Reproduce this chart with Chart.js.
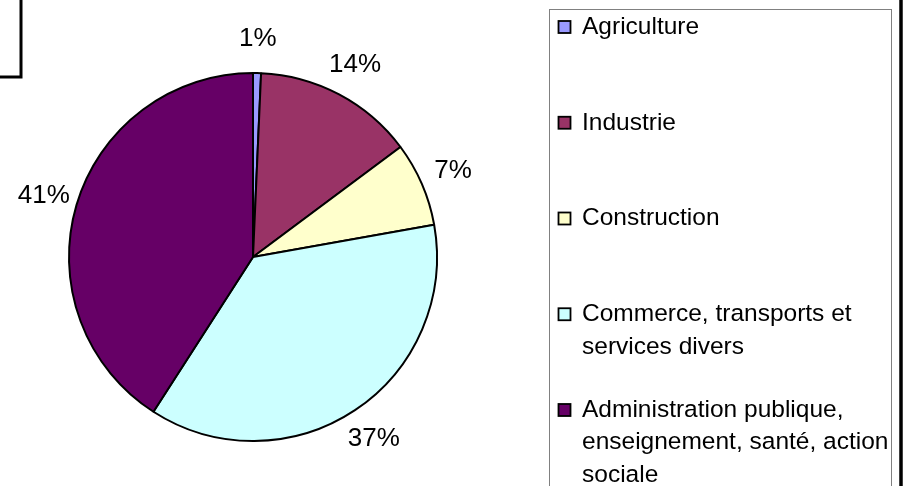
<!DOCTYPE html>
<html>
<head>
<meta charset="utf-8">
<script src="https://cdn.jsdelivr.net/npm/chart.js@4"></script>
<style>
  html, body { margin: 0; padding: 0; background: #fff; }
  #wrap { width: 904px; height: 486px; position: relative; }
</style>
</head>
<body>
<div id="wrap"><canvas id="pie" width="904" height="486"></canvas></div>
<script>
// secteurs d'activité (part en %)
const sectors = ['Agriculture', 'Industrie', 'Construction', 'Commerce, transports et services divers', 'Administration publique, enseignement, santé, action sociale'];
const shares = [0.7, 14.1, 7.4, 36.9, 40.9];
const sliceColors = ['#9999FF', '#993366', '#FFFFCC', '#CCFFFF', '#660066'];

const FONT = '"Liberation Sans", Arial, sans-serif';

// pourcentages autour du camembert
const pctLabels = {
  id: 'pctLabels',
  afterDatasetsDraw(chart) {
    const ctx = chart.ctx;
    const meta = chart.getDatasetMeta(0);
    const total = shares.reduce((a, b) => a + b, 0);
    ctx.save();
    ctx.font = '26px ' + FONT;
    ctx.fillStyle = '#000';
    ctx.textAlign = 'center';
    ctx.textBaseline = 'middle';
    meta.data.forEach((arc, i) => {
      const p = arc.getProps(['x', 'y', 'startAngle', 'endAngle', 'outerRadius'], true);
      const mid = (p.startAngle + p.endAngle) / 2;
      const r = p.outerRadius + 34;
      const x = p.x + Math.cos(mid) * r;
      const y = p.y + Math.sin(mid) * r;
      ctx.fillText(Math.round(shares[i] / total * 100) + '%', x, y);
    });
    ctx.restore();
  }
};

// légende façon Excel + cadres
const sideLegend = {
  id: 'sideLegend',
  afterDraw(chart) {
    const ctx = chart.ctx;
    ctx.save();
    // bout du cadre du titre en haut à gauche
    ctx.strokeStyle = '#000';
    ctx.lineWidth = 3;
    ctx.strokeRect(-10, -10, 31, 87);
    // bord droit du graphique
    ctx.lineWidth = 3.5;
    ctx.beginPath();
    ctx.moveTo(901, 0);
    ctx.lineTo(901, 486);
    ctx.stroke();
    // cadre de la légende
    ctx.strokeStyle = '#808080';
    ctx.lineWidth = 1;
    ctx.strokeRect(549.5, 9.5, 342, 500);

    ctx.font = '24.5px ' + FONT;
    ctx.textBaseline = 'middle';
    ctx.textAlign = 'left';
    const textX = 582, maxW = 310, lineH = 32.5;
    sectors.forEach((name, i) => {
      const y0 = 27 + i * 95.75;
      // retour à la ligne
      const words = name.split(' ');
      const lines = [];
      let cur = '';
      words.forEach(w => {
        const t = cur ? cur + ' ' + w : w;
        if (ctx.measureText(t).width > maxW && cur) { lines.push(cur); cur = w; }
        else cur = t;
      });
      lines.push(cur);
      ctx.fillStyle = sliceColors[i];
      ctx.fillRect(558.5, y0 - 6, 12, 12);
      ctx.strokeStyle = '#000';
      ctx.lineWidth = 1.8;
      ctx.strokeRect(558.5, y0 - 6, 12, 12);
      ctx.fillStyle = '#000';
      lines.forEach((ln, k) => ctx.fillText(ln, textX, y0 + k * lineH));
    });
    ctx.restore();
  }
};

new Chart(document.getElementById('pie'), {
  type: 'pie',
  data: {
    labels: sectors,
    datasets: [{
      data: shares,
      backgroundColor: sliceColors,
      borderColor: '#000',
      borderWidth: 2
    }]
  },
  options: {
    responsive: false,
    animation: false,
    events: [],
    layout: { padding: { left: 68, top: 72, right: 466, bottom: 44 } },
    plugins: {
      legend: { display: false },
      tooltip: { enabled: false }
    }
  },
  plugins: [pctLabels, sideLegend]
});
</script>
</body>
</html>
